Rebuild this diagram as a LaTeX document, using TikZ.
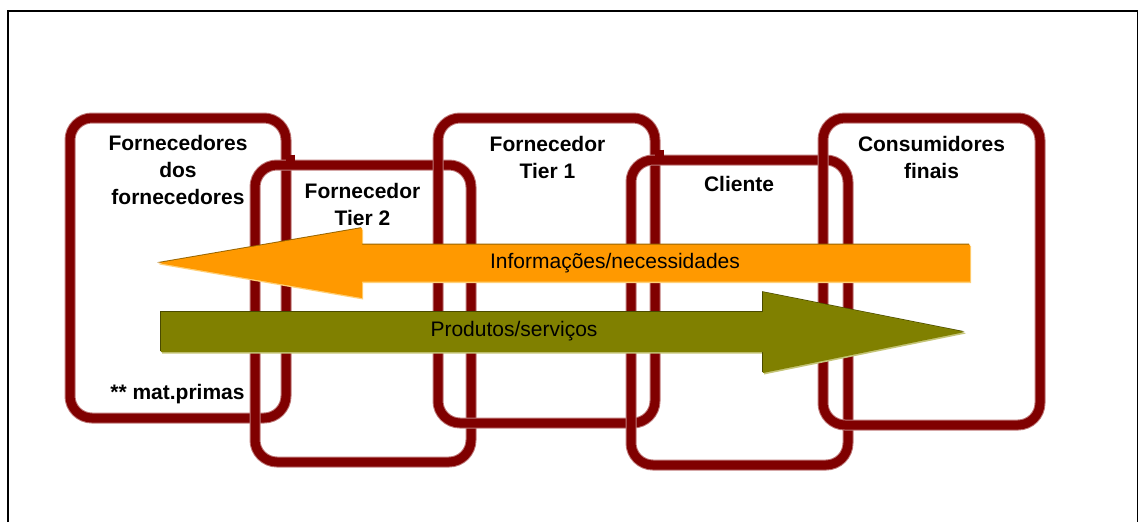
\documentclass[tikz,border=0pt]{standalone}
\usepackage{fontspec}
\setmainfont{Liberation Sans}
\usetikzlibrary{calc}
\definecolor{chainred}{RGB}{128,0,0}
\definecolor{chainrim}{RGB}{190,120,120}
\definecolor{infofill}{RGB}{255,153,0}
\definecolor{infodark}{RGB}{150,100,0}
\definecolor{infolight}{RGB}{255,208,120}
\definecolor{prodfill}{RGB}{128,128,0}
\definecolor{proddark}{RGB}{74,74,0}
\definecolor{prodlight}{RGB}{196,196,120}
\begin{document}
\begin{tikzpicture}[x=1pt,y=-1pt,
  link/.style={draw=chainred, line width=9pt, rounded corners=22pt,
    preaction={draw=chainrim, line width=11pt}, inner sep=0pt},
  linkpart/.style={draw=chainred, line width=9pt},
  title/.style={font=\fontsize{21}{27}\selectfont\bfseries, align=center,
    inner sep=0pt, anchor=north},
  flowtext/.style={font=\fontsize{21}{27}\selectfont, inner sep=0pt, anchor=base},
  infopath/.style={insert path={(158,263) -- (362,228) -- (362,244.5) -- (970,244.5)
    -- (970,281.5) -- (362,281.5) -- (362,298) -- cycle}},
  prodpath/.style={insert path={(161,312) -- (763,312) -- (763,292) -- (965,332)
    -- (763,373) -- (763,352) -- (161,352) -- cycle}}]
\useasboundingbox (0,0) rectangle (1139,522);

% page frame
\draw[line width=1.4pt] (8,522) -- (8,11) -- (1137.5,11) -- (1137.5,522);

% chain links
\node[link, minimum width=216pt, minimum height=300pt] (b1) at (178,268) {};
\node[link, minimum width=216pt, minimum height=297pt] (b2) at (363,313.5) {};
\node[link, minimum width=217pt, minimum height=305pt] (b3) at (546.5,270.5) {};
\node[link, minimum width=217pt, minimum height=305pt] (b4) at (739.5,312.5) {};
\node[link, minimum width=217pt, minimum height=307pt] (b5) at (931.5,271.5) {};

% links passing over their neighbours
\coordinate (x12) at (b1.east |- b2.north);
\coordinate (x34) at (b3.east |- b4.north);
\draw[linkpart] ($(x12)+(0,-6)$) -- ($(x12)+(0,6)$);
\draw[linkpart] ($(x34)+(0,-6)$) -- ($(x34)+(0,6)$);

% titles
\node[title] (t1) at (178,135) {Fornecedores\\dos\\fornecedores};
\node[flowtext, font=\fontsize{21}{27}\selectfont\bfseries] (t1b) at (177.5,399) {** mat.primas};
\node[title] (t2) at (362.5,183) {Fornecedor\\Tier 2};
\node[title] (t3) at (547.5,136) {Fornecedor\\Tier 1};
\node[title] (t4) at (739,176) {Cliente};
\node[title] (t5) at (931.5,136) {Consumidores\\finais};

% information flow (right to left)
\fill[infolight, shift={(1,1.5)}, infopath];
\fill[infodark, shift={(-0.8,-0.8)}, infopath];
\fill[infofill, infopath];
\node[flowtext] (info) at (615,268.5) {Informações/necessidades};

% product flow (left to right)
\fill[prodlight, shift={(1,1.5)}, prodpath];
\fill[proddark, shift={(-0.8,-0.8)}, prodpath];
\fill[prodfill, prodpath];
\node[flowtext] (prod) at (514,336) {Produtos/serviços};
\end{tikzpicture}
\end{document}
